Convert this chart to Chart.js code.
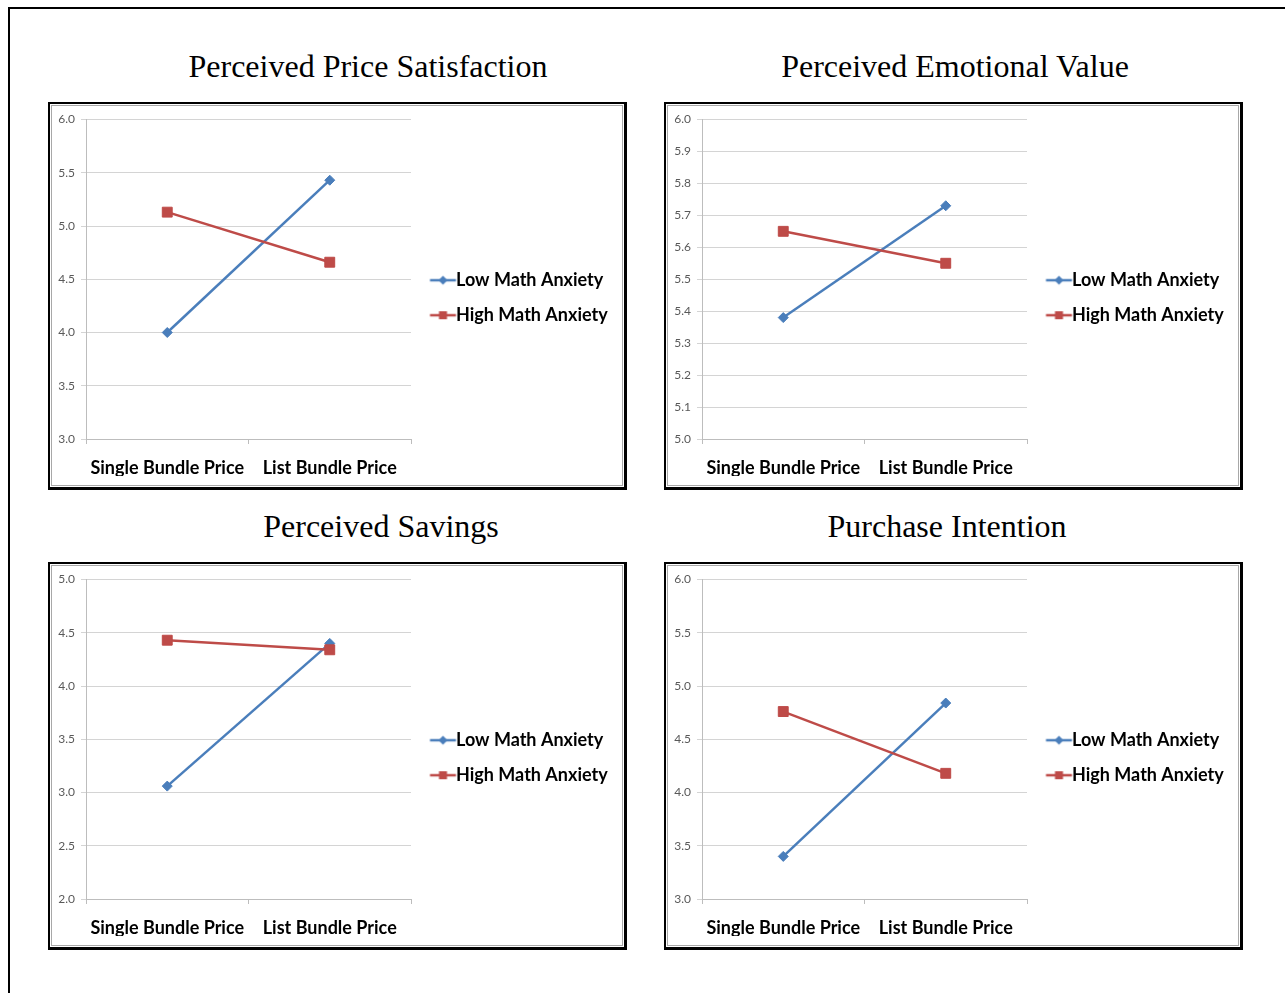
<!DOCTYPE html>
<html>
<head>
<meta charset="utf-8">
<title>Bundle price charts</title>
<script src="https://cdn.jsdelivr.net/npm/chart.js@4/dist/chart.umd.min.js"></script>
<style>
  body { margin: 0; background: #fff; width: 1285px; height: 993px; overflow: hidden; position: relative; }
  #frame { position: absolute; left: 8px; top: 7px; width: 1300px; height: 1000px;
           border-top: 2px solid #000; border-left: 2px solid #000; }
  .title { position: absolute; font-family: "Liberation Serif", "Times New Roman", serif; font-size: 32px;
           line-height: 36px; white-space: nowrap; transform: translateX(-50%); color: #000; }
  .box { position: absolute; width: 579px; height: 388px; box-sizing: border-box;
         border: 2px solid #000; border-right-width: 3px; border-bottom-width: 3px; }
  .inner { position: absolute; left: 1px; top: 1px; right: 1px; bottom: 1px; border: 1px solid #a8a8a8; }
  .box canvas { position: absolute; left: 2px; top: 2px; }
</style>
</head>
<body>
<div id="frame"></div>

<script>
const categories = ['Single Bundle Price', 'List Bundle Price'];
const groupNames = ['Low Math Anxiety', 'High Math Anxiety'];

const priceSatLow = [4.00, 5.43];
const priceSatHigh = [5.13, 4.66];
const emotionalLow = [5.38, 5.73];
const emotionalHigh = [5.65, 5.55];
const savingsLow = [3.06, 4.40];
const savingsHigh = [4.43, 4.34];
const intentionLow = [3.40, 4.84];
const intentionHigh = [4.76, 4.18];

// y axis: min, max, step
const priceSatAxis = [3, 6, 0.5];
const emotionalAxis = [5, 6, 0.1];
const savingsAxis = [2, 5, 0.5];
const intentionAxis = [3, 6, 0.5];

const BLUE = '#4a7ebb';
const RED = '#be4b48';

const panels = [
    { title: 'Perceived Price Satisfaction', low: priceSatLow, high: priceSatHigh, axis: priceSatAxis, x: 48, y: 102, tx: 368 },
    { title: 'Perceived Emotional Value', low: emotionalLow, high: emotionalHigh, axis: emotionalAxis, x: 664, y: 102, tx: 955 },
    { title: 'Perceived Savings', low: savingsLow, high: savingsHigh, axis: savingsAxis, x: 48, y: 562, tx: 381 },
    { title: 'Purchase Intention', low: intentionLow, high: intentionHigh, axis: intentionAxis, x: 664, y: 562, tx: 947 }
];

// little line + marker used as the legend symbol
function legendIcon(color, shape) {
    const c = document.createElement('canvas');
    c.width = 60;
    c.height = 14;
    const ctx = c.getContext('2d');
    ctx.strokeStyle = color;
    ctx.fillStyle = color;
    ctx.lineWidth = 2.5;
    ctx.beginPath();
    ctx.moveTo(22.5, 7);
    ctx.lineTo(48.5, 7);
    ctx.stroke();
    const cx = 35.5, cy = 7;
    if (shape == 'rect') {
        ctx.fillRect(cx - 4, cy - 4, 8, 8);
    } else {
        ctx.beginPath();
        ctx.moveTo(cx, cy - 4.5);
        ctx.lineTo(cx + 4.5, cy);
        ctx.lineTo(cx, cy + 4.5);
        ctx.lineTo(cx - 4.5, cy);
        ctx.closePath();
        ctx.fill();
    }
    return c;
}
const lowIcon = legendIcon(BLUE, 'diamond');
const highIcon = legendIcon(RED, 'rect');

// keep the legend column a fixed width so every plot area lines up
const fixLegendWidth = {
    id: 'fixLegendWidth',
    beforeLayout(chart, args, opts) {
        const lg = chart.legend;
        if (lg && !lg._widthFixed) {
            const fit = lg.fit;
            lg.fit = function () {
                fit.call(this);
                this.width = opts.width;
            };
            lg._widthFixed = true;
        }
    }
};

const gridColor = '#d4d4d4';
const axisColor = '#bdbdbd';
const labelFont = { family: 'Lato', size: 18, weight: 'bold', lineHeight: 1 };

panels.forEach((p, i) => {
    const t = document.createElement('div');
    t.className = 'title';
    t.style.left = p.tx + 'px';
    t.style.top = (p.y - 54) + 'px';
    t.textContent = p.title;
    document.body.appendChild(t);

    const box = document.createElement('div');
    box.className = 'box';
    box.style.left = p.x + 'px';
    box.style.top = p.y + 'px';
    box.innerHTML = `<div class="inner"></div><canvas id="chart${i}" width="570" height="380"></canvas>`;
    document.body.appendChild(box);

    new Chart(document.getElementById('chart' + i), {
        type: 'line',
        data: {
            labels: categories,
            datasets: [{
                label: groupNames[0],
                data: p.low,
                borderColor: BLUE,
                backgroundColor: BLUE,
                borderWidth: 2.5,
                pointStyle: 'rectRot',
                pointRadius: 5,
                pointBorderWidth: 1,
                order: 1
            }, {
                label: groupNames[1],
                data: p.high,
                borderColor: RED,
                backgroundColor: RED,
                borderWidth: 2.5,
                pointStyle: 'rect',
                pointRadius: 7,
                pointBorderWidth: 1,
                order: 0
            }]
        },
        options: {
            responsive: false,
            animation: false,
            layout: { padding: { top: 13.5, left: 0, right: 0, bottom: 10 } },
            scales: {
                x: {
                    offset: true,
                    grid: { offset: true, drawOnChartArea: false, drawTicks: true, tickLength: 5, color: axisColor },
                    border: { color: axisColor, width: 1 },
                    ticks: {
                        padding: 15,
                        color: '#000',
                        font: labelFont,
                        maxRotation: 0
                    },
                    afterFit: (scale) => { scale.height = 37; }
                },
                y: {
                    min: p.axis[0],
                    max: p.axis[1],
                    ticks: {
                        stepSize: p.axis[2],
                        padding: 6,
                        color: '#595959',
                        font: { family: 'Lato', size: 12 },
                        callback: (v) => v.toFixed(1)
                    },
                    grid: { color: gridColor, tickLength: 5 },
                    border: { color: axisColor, width: 1 },
                    afterFit: (scale) => { scale.width = 34; }
                }
            },
            plugins: {
                fixLegendWidth: { width: 211 },
                legend: {
                    position: 'right',
                    labels: {
                        usePointStyle: true,
                        pointStyleWidth: 19,
                        padding: 17,
                        color: '#000',
                        font: labelFont,
                        generateLabels: (chart) => chart.data.datasets.map((ds, k) => ({
                            text: ds.label,
                            pointStyle: k == 0 ? lowIcon : highIcon,
                            fillStyle: ds.borderColor,
                            strokeStyle: ds.borderColor,
                            lineWidth: 0,
                            hidden: false,
                            datasetIndex: k,
                            fontColor: '#000'
                        }))
                    }
                },
                tooltip: { enabled: false }
            }
        },
        plugins: [fixLegendWidth]
    });
});
</script>
</body>
</html>
